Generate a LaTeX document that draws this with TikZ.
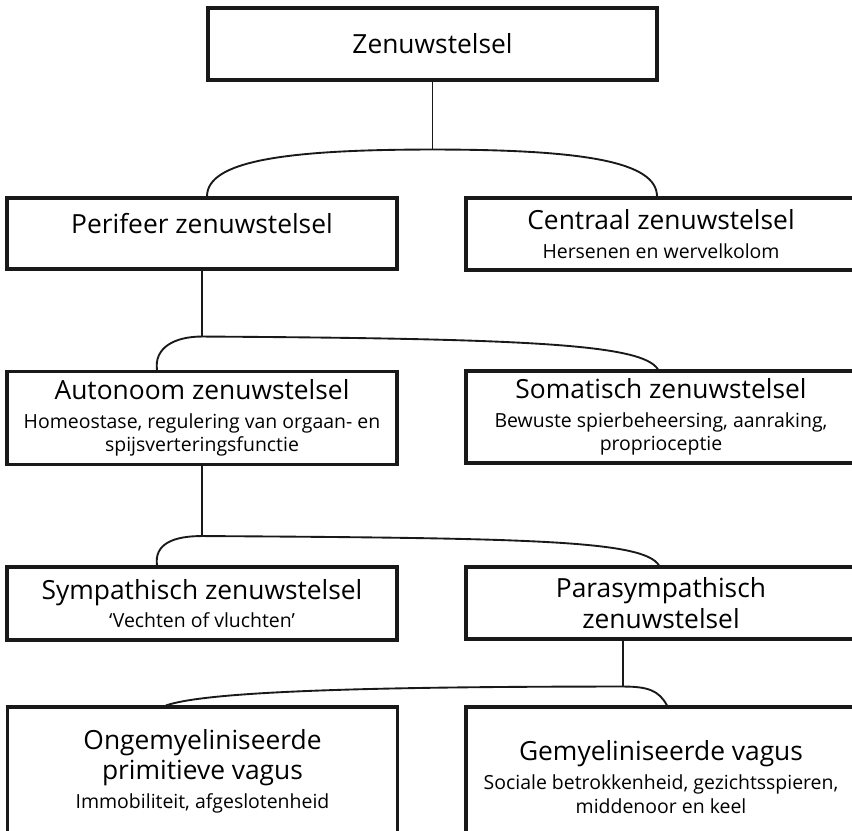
\documentclass[tikz,border=0pt]{standalone}
\usepackage{fontspec}
\setmainfont{Open Sans}
\newcommand{\titfont}{\fontsize{22.5}{26}\selectfont}
\newcommand{\subfont}{\fontsize{16.6}{20}\selectfont}

\begin{document}
\begin{tikzpicture}[x=0.03cm, y=-0.03cm, font=\titfont,
  box/.style={draw=black!90, line width=2.6pt, align=center, inner sep=2pt,
              minimum width=11.7cm, minimum height=2.16cm},
  topbox/.style={box, minimum width=13.47cm},
  link/.style={line width=1.6pt, draw=black!90},
  ]
\useasboundingbox (0,0) rectangle (852,830);
% ---- the boxes
\node[topbox] (zen) at (432.5,44) {Zenuwstelsel};
\node[box, minimum height=2.13cm] (peri) at (202,233.5) {Perifeer zenuwstelsel\\[-9pt]\mbox{}};
\node[box] (cent) at (661,234) {Centraal zenuwstelsel\\[-1.5pt]\subfont Hersenen en wervelkolom};
\node[box, minimum height=2.79cm] (auto) at (202,418)
  {Autonoom zenuwstelsel\\[-1.5pt]\subfont Homeostase, regulering van orgaan- en\\[-6pt]\subfont spijsverteringsfunctie};
\node[box, minimum height=2.76cm] (soma) at (661,417)
  {Somatisch zenuwstelsel\\[-1.5pt]\subfont Bewuste spierbeheersing, aanraking,\\[-6pt]\subfont proprioceptie};
\node[box, minimum height=2.19cm] (symp) at (202,603.5) {Sympathisch zenuwstelsel\\[-1.5pt]\subfont ‘Vechten of vluchten’};
\node[box] (para) at (661,603) {Parasympathisch\\zenuwstelsel};
\node[box, minimum height=3.84cm] (onge) at (202.5,771)
  {Ongemyeliniseerde\\primitieve vagus\\[-1.5pt]\subfont Immobiliteit, afgeslotenheid};
\node[box, minimum height=4.2cm] (gemy) at (661,777)
  {Gemyeliniseerde vagus\\[-1.5pt]\subfont Sociale betrokkenheid, gezichtsspieren,\\[-6pt]\subfont middenoor en keel};
% ---- the branches
\coordinate (j1) at ([yshift=-2.04cm]zen.south);
\coordinate (j2) at ([yshift=-1.98cm]peri.south);
\coordinate (j3) at ([yshift=-2.1cm]auto.south);
\coordinate (j4) at ([xshift=-1.14cm, yshift=-1.38cm]para.south);
\draw[link] (zen.south) -- (j1);
\draw[link] (j1) .. controls +(-150,0) and +(0,-35) .. ([xshift=0.15cm]peri.north);
\draw[link] (j1) .. controls +(150,0) and +(0,-35) .. ([xshift=-0.12cm]cent.north);
\draw[link] (peri.south) -- (j2);
\draw[link] (j2) .. controls +(-28,0) and +(-3,-22) .. ([xshift=-1.35cm]auto.north);
\draw[link] (j2) .. controls +(330,2) and +(-15,-25) .. ([xshift=-0.09cm]soma.north);
\draw[link] (auto.south) -- (j3);
\draw[link] (j3) .. controls +(-28,0) and +(-3,-22) .. ([xshift=-1.35cm]symp.north);
\draw[link] (j3) .. controls +(330,2) and +(-15,-25) .. ([xshift=-0.06cm]para.north);
\draw[link] (para.south -| j4) -- (j4);
\draw[link] (j4) .. controls +(-300,0) and +(35,-12) .. ([xshift=-1.1cm]onge.north);
\draw[link] (j4) .. controls +(25,0) and +(-8,-15) .. ([xshift=0.18cm]gemy.north);
\end{tikzpicture}
\end{document}
